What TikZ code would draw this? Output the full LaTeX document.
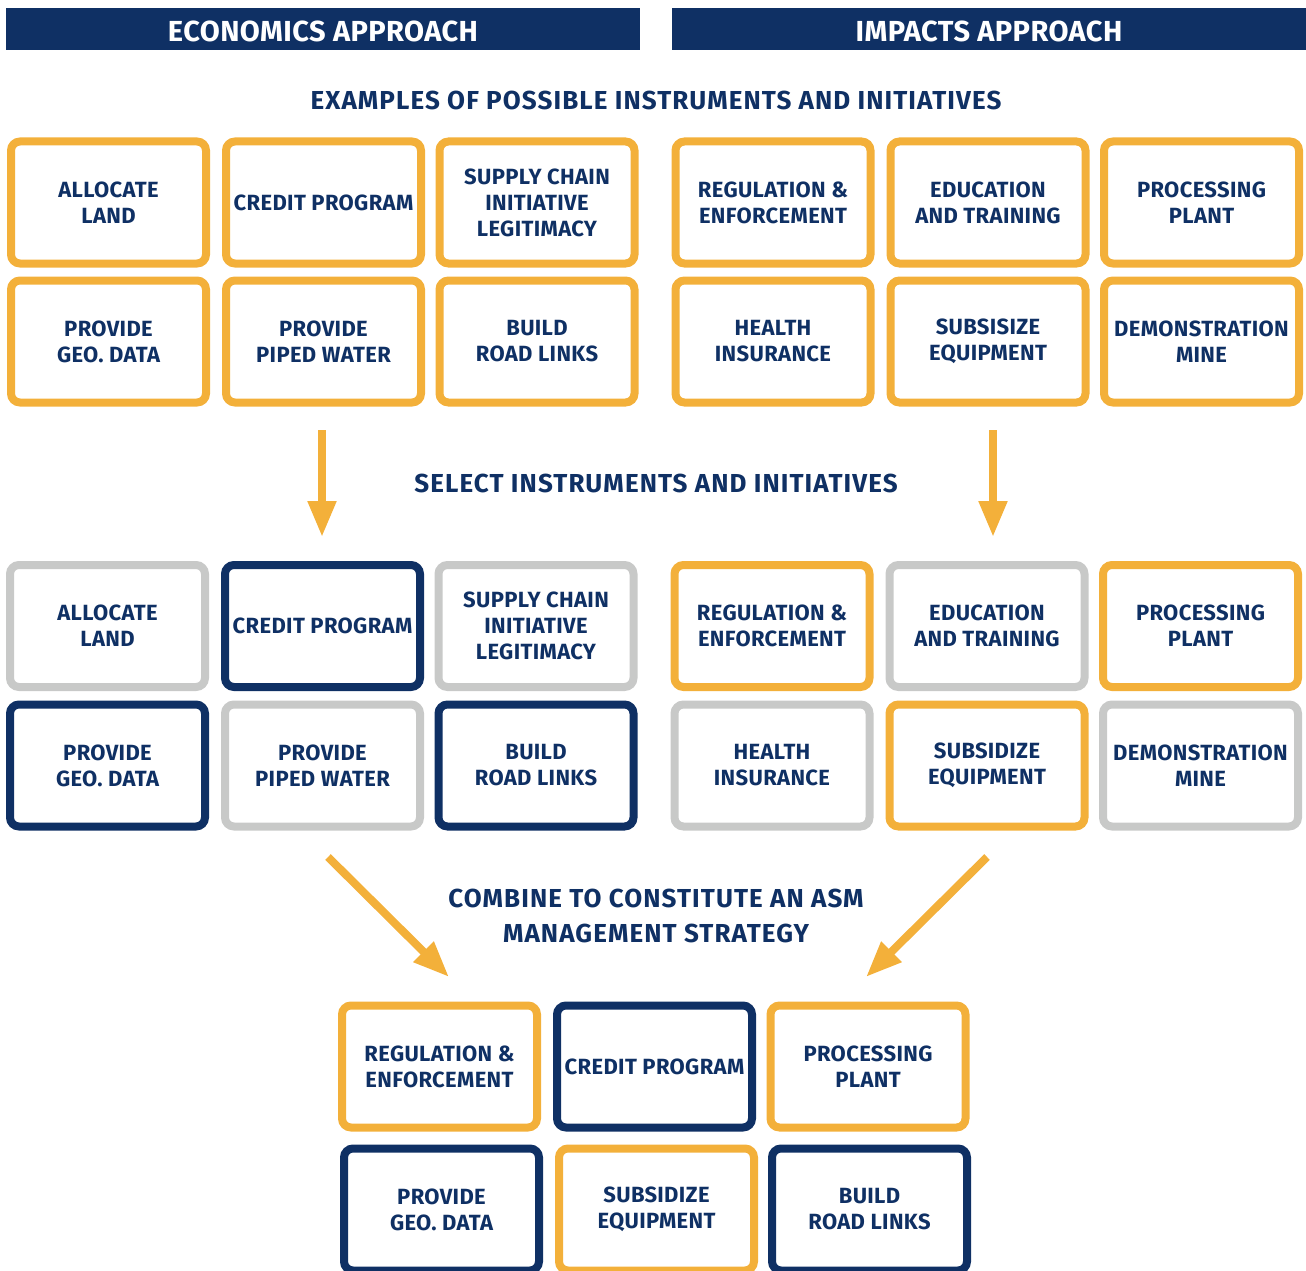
\documentclass[tikz,border=0pt]{standalone}
\usepackage{fontspec}
\usetikzlibrary{arrows.meta}
\newfontfamily\boxfont{Fira Sans}[UprightFont=* Bold, LetterSpace=1.6]
\newfontfamily\headfont{Fira Sans}[UprightFont=* Bold, LetterSpace=1.5]
\newfontfamily\titlefont{Fira Sans}[UprightFont=* Bold, LetterSpace=4.2]
\definecolor{navy}{HTML}{0F3064}
\definecolor{gold}{HTML}{F3B03A}
\definecolor{lgray}{HTML}{C8C9C8}
\tikzset{
  box/.style={rounded corners=9pt, line width=8pt, minimum width=195pt,
    minimum height=122pt, align=center, text=navy, inner sep=0pt,
    font=\boxfont\fontsize{22}{26}\selectfont},
  ob/.style={box, draw=gold},
  nb/.style={box, draw=navy},
  gb/.style={box, draw=lgray},
  banner/.style={fill=navy, text=white, minimum width=634pt, minimum height=42pt,
    inner sep=0pt, font=\headfont\fontsize{29}{30}\selectfont},
  title/.style={text=navy, align=center, inner sep=0pt,
    font=\titlefont\fontsize{26}{35}\selectfont},
  flow/.style={draw=gold, line width=8pt, -{Triangle[length=36pt,width=27pt]}}
}
\begin{document}
\begin{tikzpicture}[x=1pt,y=-1pt]
\useasboundingbox (0,0) rectangle (1306,1271);
% banners
\fill[navy] (6,8) rectangle (640,50);
\fill[navy] (672,8) rectangle (1306,50);
\node[text=white, inner sep=0pt, font=\headfont\fontsize{29}{30}\selectfont] (econ) at (323,31) {ECONOMICS APPROACH};
\node[text=white, inner sep=0pt, font=\headfont\fontsize{29}{30}\selectfont] (imp) at (989,31) {IMPACTS APPROACH};
\node[title] (examples) at (656,100) {EXAMPLES OF POSSIBLE INSTRUMENTS AND INITIATIVES};
% possible instruments
\begin{scope}[every node/.append style={yshift=-1.5pt}]
\node[ob] (a1) at (108.5,201) {ALLOCATE\\LAND};
\node[ob] (a2) at (323.5,201) {CREDIT PROGRAM};
\node[ob] (a3) at (537,201) {SUPPLY CHAIN\\INITIATIVE\\LEGITIMACY};
\node[ob] (a4) at (773,201) {REGULATION \&\\ENFORCEMENT};
\node[ob] (a5) at (988,201) {EDUCATION\\AND TRAINING};
\node[ob] (a6) at (1201.5,201) {PROCESSING\\PLANT};
\node[ob] (a7) at (108.5,340) {PROVIDE\\GEO. DATA};
\node[ob] (a8) at (323.5,340) {PROVIDE\\PIPED WATER};
\node[ob] (a9) at (537,340) {BUILD\\ROAD LINKS};
\node[ob] (a10) at (773,340) {HEALTH\\INSURANCE};
\node[ob] (a11) at (988,340) {SUBSISIZE\\EQUIPMENT};
\node[ob] (a12) at (1201.5,340) {DEMONSTRATION\\MINE};
\end{scope}
% selection
\node[title] (select) at (656,483) {SELECT INSTRUMENTS AND INITIATIVES};
\begin{scope}[every node/.append style={yshift=-1.5pt}]
\node[gb] (b1) at (107.5,624.5) {ALLOCATE\\LAND};
\node[nb] (b2) at (322.5,624.5) {CREDIT PROGRAM};
\node[gb] (b3) at (536,624.5) {SUPPLY CHAIN\\INITIATIVE\\LEGITIMACY};
\node[ob] (b4) at (772,624.5) {REGULATION \&\\ENFORCEMENT};
\node[gb] (b5) at (987,624.5) {EDUCATION\\AND TRAINING};
\node[ob] (b6) at (1200.5,624.5) {PROCESSING\\PLANT};
\node[nb] (b7) at (107.5,764) {PROVIDE\\GEO. DATA};
\node[gb] (b8) at (322.5,764) {PROVIDE\\PIPED WATER};
\node[nb] (b9) at (536,764) {BUILD\\ROAD LINKS};
\node[gb] (b10) at (772,764) {HEALTH\\INSURANCE};
\node[ob] (b11) at (987,764) {SUBSIDIZE\\EQUIPMENT};
\node[gb] (b12) at (1200.5,764) {DEMONSTRATION\\MINE};
\end{scope}
% strategy
\node[title] (combine) at (656,916) {COMBINE TO CONSTITUTE AN ASM\\MANAGEMENT STRATEGY};
\begin{scope}[every node/.append style={yshift=-1.5pt}]
\node[ob] (c1) at (439.5,1065) {REGULATION \&\\ENFORCEMENT};
\node[nb] (c2) at (654.5,1065) {CREDIT PROGRAM};
\node[ob] (c3) at (868,1065) {PROCESSING\\PLANT};
\node[nb] (c4) at (441.5,1208) {PROVIDE\\GEO. DATA};
\node[ob] (c5) at (656.5,1208) {SUBSIDIZE\\EQUIPMENT};
\node[nb] (c6) at (869.5,1208) {BUILD\\ROAD LINKS};
\end{scope}
% arrows between the stages
\coordinate (s1) at (322,430);
\coordinate (t1) at (322,537);
\coordinate (s2) at (993,430);
\coordinate (t2) at (993,537);
\coordinate (s3) at (328,857);
\coordinate (t3) at (449,977);
\coordinate (s4) at (987,857);
\coordinate (t4) at (866,977);
\draw[flow] (s1) -- (t1);
\draw[flow] (s2) -- (t2);
\draw[flow] (s3) -- (t3);
\draw[flow] (s4) -- (t4);
\end{tikzpicture}
\end{document}
